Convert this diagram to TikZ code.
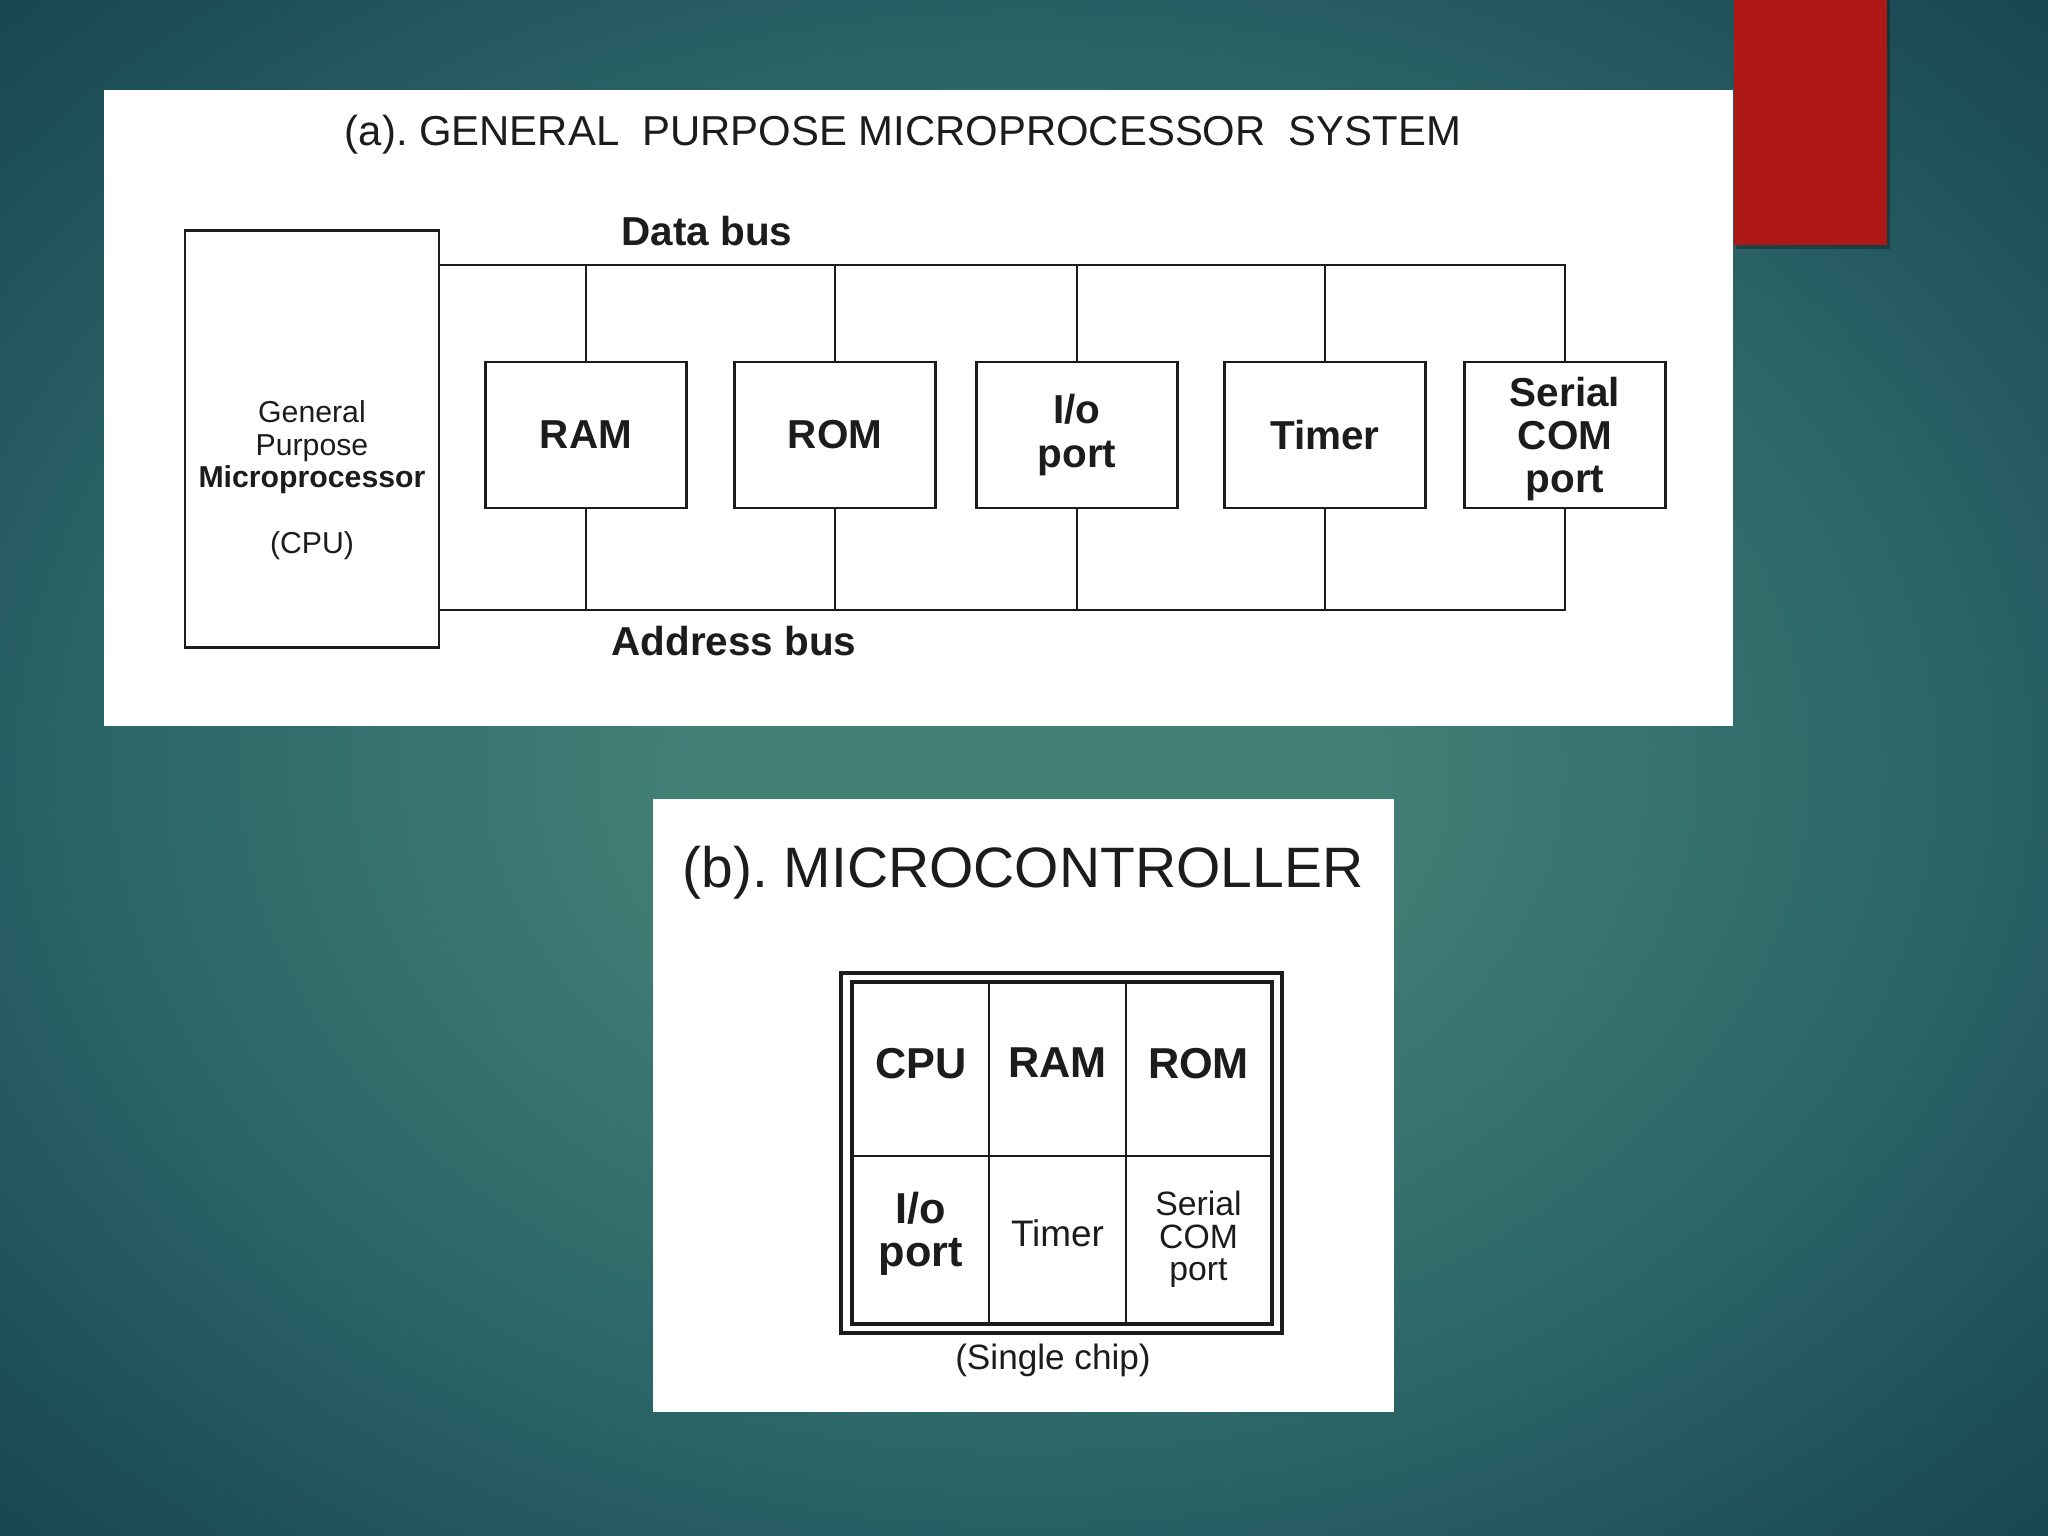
\documentclass[tikz,border=0pt]{standalone}
\usepackage{fontspec}
\setmainfont{Liberation Sans}
\usetikzlibrary{calc,positioning}

\definecolor{bgin}{RGB}{66,128,118}
\definecolor{bgmid}{RGB}{44,102,104}
\definecolor{bgdark}{RGB}{28,74,86}
\definecolor{bgout}{RGB}{15,46,62}
\definecolor{slidered}{RGB}{174,24,22}
\definecolor{ink}{RGB}{28,28,28}
\pgfdeclareradialshading{slideglow}{\pgfpoint{0bp}{0bp}}{color(0bp)=(bgin); color(8bp)=(bgin); color(22bp)=(bgmid); color(33bp)=(bgdark); color(50bp)=(bgout)}

\begin{document}
\begin{tikzpicture}[
    x=0.01cm, y=-0.01cm,
    unit/.style={
        draw=ink,
        fill=white,
        line width=0.8pt,
        minimum width=2.01cm,
        minimum height=1.46cm,
        align=center,
        inner sep=2pt,
        text=ink,
        font=\fontsize{11.5}{12.3}\selectfont\bfseries,
    },
    cell/.style={
        draw=ink,
        line width=0.7pt,
        align=center,
        inner sep=0pt,
        text=ink,
    },
    bus/.style={
        line width=0.8pt,
        color=ink,
    },
    buslabel/.style={
        text=ink,
        font=\fontsize{11.5}{13}\selectfont\bfseries,
    },
]
\useasboundingbox (0,0) rectangle (2048,1536);
\shade[shading=slideglow] (0,0) rectangle (2048,1536);

% red corner tab
\fill[black,opacity=0.3] (1736,0) rectangle (1890,249);
\fill[slidered] (1734,0) rectangle (1887,245);

% white panels
\fill[white] (104,90) rectangle (1733,726);
\fill[white] (653,799) rectangle (1394,1412);

% (a) general purpose system
\node[text=ink,font=\fontsize{11.9}{14}\selectfont] (titlea) at (903,135)
    {(a).\ GENERAL\ \ PURPOSE MICROPROCESSOR\ \ SYSTEM};

\node[draw=ink,line width=0.8pt,minimum width=2.54cm,minimum height=4.17cm] (cpu) at (312,439) {};
\node[text=ink,align=center,font=\fontsize{8.6}{9.3}\selectfont] (cputxt) at ($(cpu.center)+(0,41)$)
    {General\\Purpose\\\textbf{Microprocessor}\\[9.3pt](CPU)};

\node[unit] (ram) at (586,435) {RAM};
\node[unit] (rom) at (835,435) {ROM};
\node[unit] (io)  at (1077,435) {I/o\\port};
\node[unit] (tmr) at (1325,435) {Timer};
\node[unit,text depth=0pt] (ser) at (1565,435) {Serial\\COM\\port};

\coordinate (dby) at (0,265);
\coordinate (aby) at (0,610);

\draw[bus] (cpu.east |- dby) -- (ser.north |- dby) -- (ser.north);
\draw[bus] (cpu.east |- aby) -- (ser.south |- aby) -- (ser.south);
\foreach \b in {ram,rom,io,tmr} {
    \draw[bus] (\b.north) -- (\b.north |- dby);
    \draw[bus] (\b.south) -- (\b.south |- aby);
}

\node[buslabel] (dbus) at (707,231) {Data bus};
\node[buslabel] (abus) at (734,641) {Address bus};

% (b) microcontroller
\node[text=ink,font=\fontsize{16.2}{18}\selectfont] (titleb) at (1023,873) {(b).\ MICROCONTROLLER};

\node[cell,minimum width=1.36cm,minimum height=1.73cm,text depth=3.7pt,font=\fontsize{12.3}{13}\selectfont\bfseries] (ucpu) at (921,1069.5) {CPU};
\node[cell,minimum width=1.37cm,minimum height=1.73cm,text depth=3.7pt,font=\fontsize{12.3}{13}\selectfont\bfseries] (uram) at (1057.5,1069.5) {RAM};
\node[cell,minimum width=1.45cm,minimum height=1.73cm,text depth=3.7pt,font=\fontsize{12.3}{13}\selectfont\bfseries] (urom) at (1198.5,1069.5) {ROM};
\node[cell,minimum width=1.36cm,minimum height=1.67cm,text depth=5.8pt,font=\fontsize{12.3}{12}\selectfont\bfseries] (uio) at (921,1239.5) {I/o\\port};
\node[cell,minimum width=1.37cm,minimum height=1.67cm,text depth=3.7pt,font=\fontsize{10.5}{12}\selectfont] (utmr) at (1057.5,1239.5) {Timer};
\node[cell,minimum width=1.45cm,minimum height=1.67cm,font=\fontsize{9.6}{9.2}\selectfont] (ucom) at (1198.5,1239.5) {Serial\\COM\\port};

\draw[ink,line width=0.9pt] (ucpu.north west) rectangle (ucom.south east);
\draw[ink,line width=1.1pt] ($(ucpu.north west)+(-11,-9)$) rectangle ($(ucom.south east)+(10,9)$);

\node[text=ink,font=\fontsize{10}{12}\selectfont] (chip) at (1053,1360) {(Single chip)};
\end{tikzpicture}
\end{document}
